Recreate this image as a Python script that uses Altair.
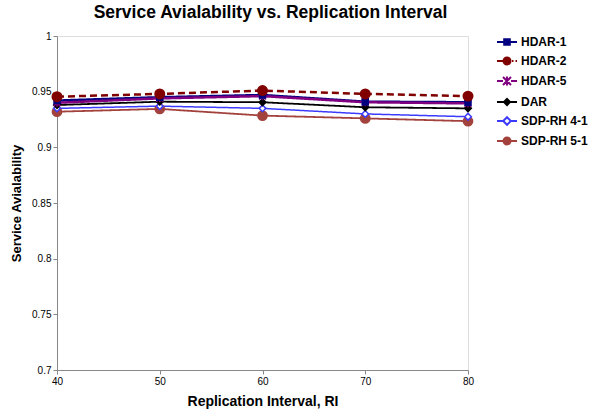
import altair as alt
import pandas as pd

# ---- data ----
intervals = [40, 50, 60, 70, 80]
series_names = ["HDAR-1", "HDAR-2", "HDAR-5", "DAR", "SDP-RH 4-1", "SDP-RH 5-1"]
hdar1 = [0.942, 0.945, 0.947, 0.941, 0.9405]
hdar2 = [0.9455, 0.948, 0.951, 0.948, 0.946]
hdar5 = [0.940, 0.944, 0.946, 0.9405, 0.9395]
dar = [0.938, 0.941, 0.9405, 0.936, 0.935]
sdp41 = [0.935, 0.937, 0.935, 0.930, 0.9275]
sdp51 = [0.932, 0.9345, 0.9285, 0.926, 0.9235]
y_ticks = [0.7, 0.75, 0.8, 0.85, 0.9, 0.95, 1.0]
x_ticks = [40, 50, 60, 70, 80]

all_values = [hdar1, hdar2, hdar5, dar, sdp41, sdp51]
rows = []
for name, vals in zip(series_names, all_values):
    for x, v in zip(intervals, vals):
        rows.append({"series": name, "ri": x, "value": v})
df = pd.DataFrame(rows)

# ---- styles ----
FONT = "Liberation Sans"
colors = ["#000080", "#800000", "#800080", "#000000", "#3B3BFF", "#A3423D"]
fills = ["#000080", "#800000", "#800080", "#000000", "#FFFFFF", "#A3423D"]
dashes = [[1, 0], [7, 4], [1, 0], [1, 0], [1, 0], [1, 0]]
widths = [2.5, 2.5, 2.5, 1.8, 1.5, 1.8]
asterisk = "M-1,-1L1,1M-1,1L1,-1M0,-1.2V1.2"
point_shapes = ["square", "circle", asterisk, "diamond", "diamond", "circle"]
point_sizes = [36, 90, 45, 45, 45, 85]
circ = "M-0.35,0A0.35,0.35 0 1,0 0.35,0A0.35,0.35 0 1,0 -0.35,0Z"
legend_paths = [
    "M-1,0H1M-0.28,-0.28H0.28V0.28H-0.28Z",
    "M-1,0H-0.3M0.5,0H0.65M0.85,0H1" + circ,
    "M-1,0H-0.4M0.4,0H1M-0.4,-0.4L0.4,0.4M-0.4,0.4L0.4,-0.4M0,-0.45V0.45",
    "M-1,0H1M0,-0.3L0.3,0L0,0.3L-0.3,0Z",
    "M-1,0H-0.38M0.38,0H1M0,-0.38L0.38,0L0,0.38L-0.38,0Z",
    "M-1,0H1" + circ,
]

x_enc = alt.X("ri:Q", scale=alt.Scale(domain=[40, 80], nice=False),
              axis=alt.Axis(values=x_ticks, title="Replication Interval, RI", grid=False,
                            labelFlush=False, tickSize=4, titlePadding=8,
                            titleFontSize=14))
y_enc = alt.Y("value:Q", scale=alt.Scale(domain=[0.7, 1.0], nice=False, zero=False),
              axis=alt.Axis(values=y_ticks, format="~g", title="Service Avialability",
                            grid=False, labelFlush=False, tickSize=4, titlePadding=8,
                            titleFontSize=13))

line_layers = []
for i in [5, 4, 3, 0, 2, 1]:
    name = series_names[i]
    ln = alt.Chart(df).transform_filter(alt.datum.series == name).mark_line(
        stroke=colors[i], strokeWidth=widths[i], strokeDash=dashes[i]
    ).encode(x=x_enc, y=y_enc)
    line_layers.append(ln)

point_layers = []
for i in [5, 4, 3, 2, 0, 1]:
    name = series_names[i]
    is_filled = point_shapes[i] != asterisk
    pl = alt.Chart(df).transform_filter(alt.datum.series == name).mark_point(
        shape=point_shapes[i], size=point_sizes[i], filled=False, opacity=1,
        stroke=colors[i], fill=(fills[i] if is_filled else "transparent"),
        strokeWidth=1.5,
    ).encode(x="ri:Q", y="value:Q")
    point_layers.append(pl)

leg = dict(title=None, orient="none", legendX=439, legendY=-5, symbolSize=400,
           symbolStrokeWidth=2, labelFont=FONT, labelFontSize=12, labelFontWeight="bold",
           labelColor="#000000", labelOffset=3, rowPadding=1, padding=0)

legend_layer = alt.Chart(df).transform_calculate(hidden="datum.value + 5").mark_point(
    clip=True, size=400, opacity=1, strokeWidth=2, filled=True
).encode(
    x="ri:Q",
    y="hidden:Q",
    stroke=alt.Stroke("series:N", scale=alt.Scale(domain=series_names, range=colors),
                      legend=alt.Legend(**leg)),
    fill=alt.Fill("series:N", scale=alt.Scale(domain=series_names, range=fills),
                  legend=alt.Legend(**leg)),
    shape=alt.Shape("series:N", scale=alt.Scale(domain=series_names, range=legend_paths),
                    legend=alt.Legend(**leg)),
)

chart = alt.layer(*line_layers, *point_layers, legend_layer).properties(
    width=411, height=334,
    title=alt.TitleParams("Service Avialability  vs. Replication Interval", fontSize=17.5,
                          font=FONT, fontWeight="bold", anchor="middle", dx=8, offset=10,
                          color="#000000"),
    autosize=alt.AutoSizeParams(type="none"),
    padding={"left": 57, "top": 36, "right": 121, "bottom": 45},
).configure_view(stroke="#000000", strokeWidth=1).configure_axis(
    labelFont=FONT, labelFontSize=10, labelFontWeight="bold", labelColor="#000000",
    titleFont=FONT, titleFontWeight="bold", titleColor="#000000",
    domainColor="#000000", tickColor="#000000", labelPadding=2,
).configure(background="#FFFFFF")

chart.save("out.html", embed_options={"renderer": "svg", "actions": False})
